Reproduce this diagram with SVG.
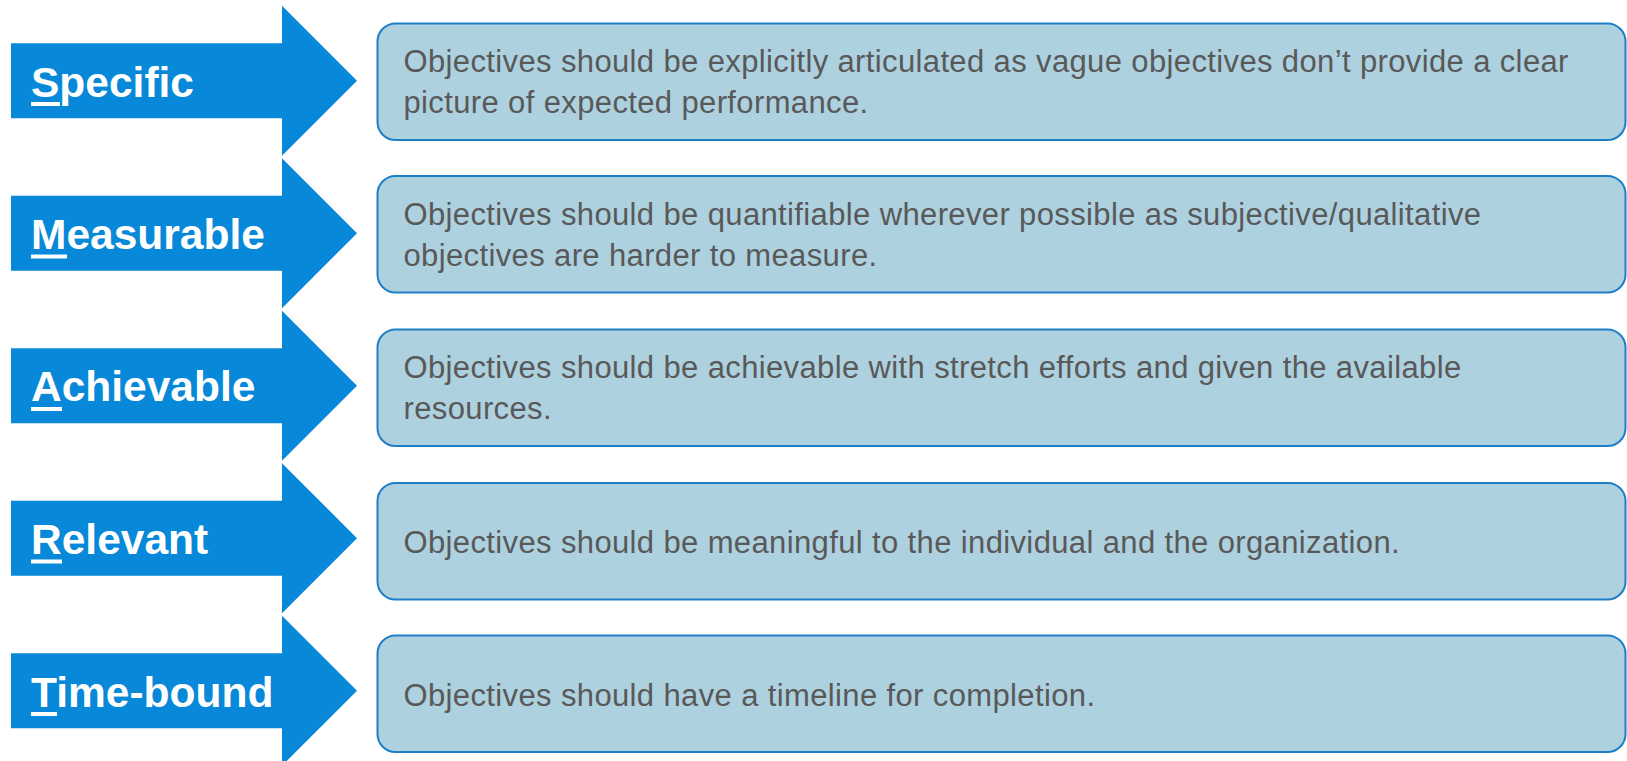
<svg xmlns="http://www.w3.org/2000/svg" width="1627" height="761" viewBox="0 0 1627 761">
  <defs>
    <style>
      .arrow { fill: #0788d8; }
      .key { font-family: "Liberation Sans", Arial, sans-serif; font-weight: bold; font-size: 42.5px; fill: #ffffff; }
      .uline { fill: #ffffff; }
      .box { fill: #aed1e0; stroke: #1e7fc6; stroke-width: 2; }
      .desc { font-family: "Liberation Sans", Arial, sans-serif; font-size: 31px; letter-spacing: 0.37px; fill: #595959; }
    </style>
    <!-- chevron arrow centred on y = 0 -->
    <polygon id="chev" points="11,-37.5 282,-37.5 282,-75 357,0 282,75 282,37.5 11,37.5"/>
  </defs>

  <rect width="1627" height="761" fill="#ffffff"/>

  <g id="connectors"></g>

  <!-- S -->
  <g id="specific">
    <use href="#chev" class="arrow" transform="translate(0,80.7)"/>
    <text class="key" x="31" y="96.5">Specific</text>
    <rect class="uline" x="31" y="102" width="29" height="4"/>
  </g>
  <g id="specific-desc">
    <rect class="box" x="377.5" y="23.5" width="1248" height="116.5" rx="18"/>
    <text class="desc" x="403.5" y="71.7">Objectives should be explicitly articulated as vague objectives don’t provide a clear</text>
    <text class="desc" x="403.5" y="112.7">picture of expected performance.</text>
  </g>

  <!-- M -->
  <g id="measurable">
    <use href="#chev" class="arrow" transform="translate(0,233.2)"/>
    <text class="key" x="31" y="249">Measurable</text>
    <rect class="uline" x="31" y="254.5" width="36" height="4"/>
  </g>
  <g id="measurable-desc">
    <rect class="box" x="377.5" y="176" width="1248" height="116.5" rx="18"/>
    <text class="desc" x="403.5" y="224.5">Objectives should be quantifiable wherever possible as subjective/qualitative</text>
    <text class="desc" x="403.5" y="265.5">objectives are harder to measure.</text>
  </g>

  <!-- A -->
  <g id="achievable">
    <use href="#chev" class="arrow" transform="translate(0,385.7)"/>
    <text class="key" x="31" y="401">Achievable</text>
    <rect class="uline" x="31" y="407" width="31" height="4"/>
  </g>
  <g id="achievable-desc">
    <rect class="box" x="377.5" y="329.5" width="1248" height="116.5" rx="18"/>
    <text class="desc" x="403.5" y="378">Objectives should be achievable with stretch efforts and given the available</text>
    <text class="desc" x="403.5" y="419">resources.</text>
  </g>

  <!-- R -->
  <g id="relevant">
    <use href="#chev" class="arrow" transform="translate(0,538.2)"/>
    <text class="key" x="31" y="554">Relevant</text>
    <rect class="uline" x="31" y="559.5" width="31" height="4"/>
  </g>
  <g id="relevant-desc">
    <rect class="box" x="377.5" y="483" width="1248" height="116.5" rx="18"/>
    <text class="desc" x="403.5" y="553.3">Objectives should be meaningful to the individual and the organization.</text>
  </g>

  <!-- T -->
  <g id="time-bound">
    <use href="#chev" class="arrow" transform="translate(0,690.7)"/>
    <text class="key" x="31" y="706.5">Time-bound</text>
    <rect class="uline" x="31" y="712" width="26" height="4"/>
  </g>
  <g id="time-bound-desc">
    <rect class="box" x="377.5" y="635.5" width="1248" height="116.5" rx="18"/>
    <text class="desc" x="403.5" y="705.5">Objectives should have a timeline for completion.</text>
  </g>
</svg>
